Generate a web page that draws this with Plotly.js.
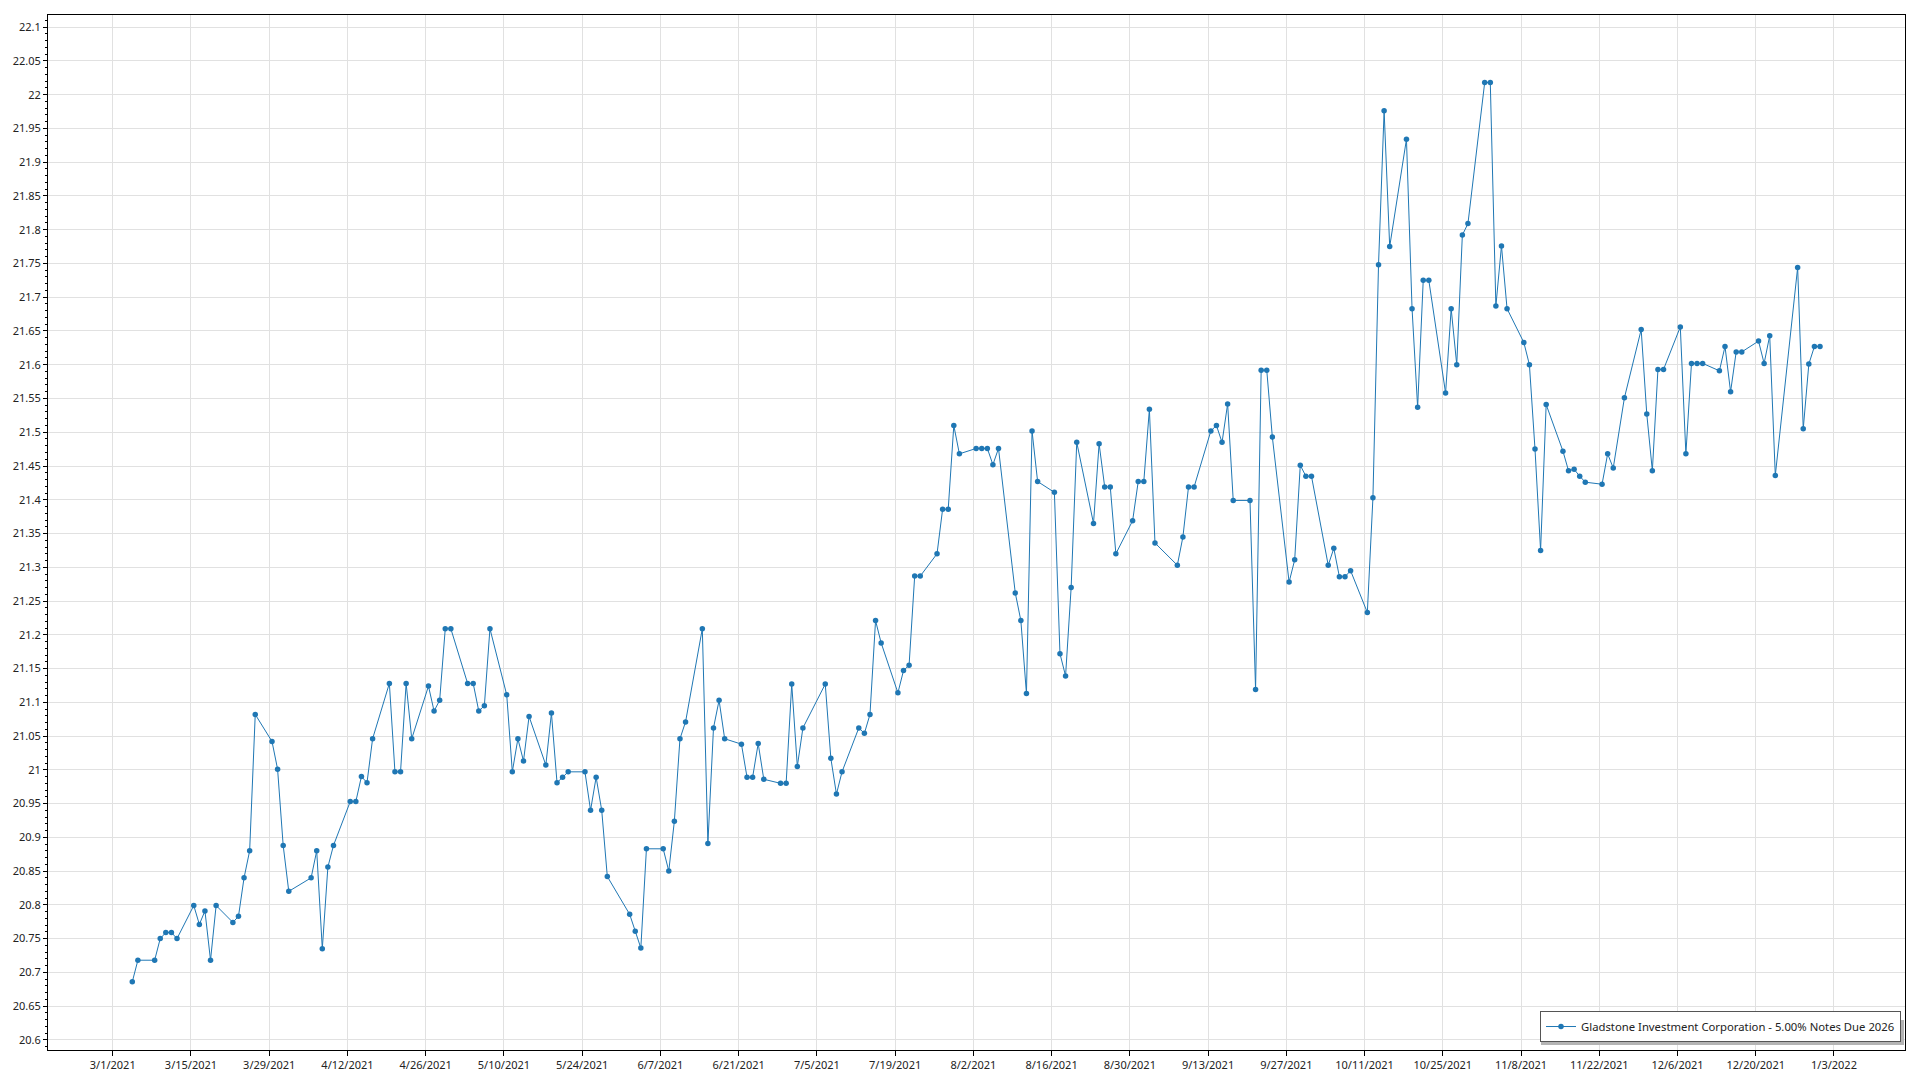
<!DOCTYPE html>
<html>
<head>
<meta charset="utf-8">
<script src="https://cdn.plot.ly/plotly-3.0.1.min.js"></script>
<style>
html,body{margin:0;padding:0;background:#fff;}
#chart{width:1920px;height:1080px;}
</style>
</head>
<body>
<div id="chart"></div>
<script>
const seriesName = "Gladstone Investment Corporation - 5.00% Notes Due 2026";

const dates = [
"2021-03-04","2021-03-05","2021-03-08","2021-03-09","2021-03-10","2021-03-11","2021-03-12",
"2021-03-15","2021-03-16","2021-03-17","2021-03-18","2021-03-19",
"2021-03-22","2021-03-23","2021-03-24","2021-03-25","2021-03-26",
"2021-03-29","2021-03-30","2021-03-31","2021-04-01",
"2021-04-05","2021-04-06","2021-04-07","2021-04-08","2021-04-09",
"2021-04-12","2021-04-13","2021-04-14","2021-04-15","2021-04-16",
"2021-04-19","2021-04-20","2021-04-21","2021-04-22","2021-04-23",
"2021-04-26","2021-04-27","2021-04-28","2021-04-29","2021-04-30",
"2021-05-03","2021-05-04","2021-05-05","2021-05-06","2021-05-07",
"2021-05-10","2021-05-11","2021-05-12","2021-05-13","2021-05-14",
"2021-05-17","2021-05-18","2021-05-19","2021-05-20","2021-05-21",
"2021-05-24","2021-05-25","2021-05-26","2021-05-27","2021-05-28",
"2021-06-01","2021-06-02","2021-06-03","2021-06-04",
"2021-06-07","2021-06-08","2021-06-09","2021-06-10","2021-06-11",
"2021-06-14","2021-06-15","2021-06-16","2021-06-17","2021-06-18",
"2021-06-21","2021-06-22","2021-06-23","2021-06-24","2021-06-25",
"2021-06-28","2021-06-29","2021-06-30","2021-07-01","2021-07-02",
"2021-07-06","2021-07-07","2021-07-08","2021-07-09",
"2021-07-12","2021-07-13","2021-07-14","2021-07-15","2021-07-16",
"2021-07-19","2021-07-20","2021-07-21","2021-07-22","2021-07-23",
"2021-07-26","2021-07-27","2021-07-28","2021-07-29","2021-07-30",
"2021-08-02","2021-08-03","2021-08-04","2021-08-05","2021-08-06",
"2021-08-09","2021-08-10","2021-08-11","2021-08-12","2021-08-13",
"2021-08-16","2021-08-17","2021-08-18","2021-08-19","2021-08-20",
"2021-08-23","2021-08-24","2021-08-25","2021-08-26","2021-08-27",
"2021-08-30","2021-08-31","2021-09-01","2021-09-02","2021-09-03",
"2021-09-07","2021-09-08","2021-09-09","2021-09-10",
"2021-09-13","2021-09-14","2021-09-15","2021-09-16","2021-09-17",
"2021-09-20","2021-09-21","2021-09-22","2021-09-23","2021-09-24",
"2021-09-27","2021-09-28","2021-09-29","2021-09-30","2021-10-01",
"2021-10-04","2021-10-05","2021-10-06","2021-10-07","2021-10-08",
"2021-10-11","2021-10-12","2021-10-13","2021-10-14","2021-10-15",
"2021-10-18","2021-10-19","2021-10-20","2021-10-21","2021-10-22",
"2021-10-25","2021-10-26","2021-10-27","2021-10-28","2021-10-29",
"2021-11-01","2021-11-02","2021-11-03","2021-11-04","2021-11-05",
"2021-11-08","2021-11-09","2021-11-10","2021-11-11","2021-11-12",
"2021-11-15","2021-11-16","2021-11-17","2021-11-18","2021-11-19",
"2021-11-22","2021-11-23","2021-11-24","2021-11-26",
"2021-11-29","2021-11-30","2021-12-01","2021-12-02","2021-12-03",
"2021-12-06","2021-12-07","2021-12-08","2021-12-09","2021-12-10",
"2021-12-13","2021-12-14","2021-12-15","2021-12-16","2021-12-17",
"2021-12-20","2021-12-21","2021-12-22","2021-12-23",
"2021-12-27","2021-12-28","2021-12-29","2021-12-30","2021-12-31"
];

const prices = [
20.686,20.718,20.718,20.750,20.759,20.759,20.750,
20.799,20.771,20.791,20.718,20.799,
20.774,20.783,20.840,20.880,21.082,
21.042,21.001,20.888,20.820,
20.840,20.880,20.735,20.856,20.888,
20.953,20.953,20.990,20.981,21.046,
21.128,20.997,20.997,21.128,21.046,
21.124,21.087,21.103,21.209,21.209,
21.128,21.128,21.087,21.095,21.209,
21.111,20.997,21.046,21.013,21.079,
21.007,21.084,20.981,20.989,20.997,
20.997,20.940,20.989,20.940,20.842,
20.786,20.761,20.736,20.883,
20.883,20.850,20.924,21.046,21.071,
21.209,20.891,21.062,21.103,21.046,
21.038,20.989,20.989,21.039,20.986,
20.980,20.980,21.127,21.005,21.062,
21.127,21.017,20.964,20.997,
21.062,21.054,21.082,21.221,21.188,
21.114,21.147,21.155,21.287,21.287,
21.320,21.386,21.386,21.510,21.468,
21.476,21.476,21.476,21.452,21.476,
21.262,21.221,21.113,21.502,21.427,
21.411,21.172,21.139,21.270,21.485,
21.365,21.483,21.419,21.419,21.320,
21.369,21.427,21.427,21.534,21.336,
21.303,21.345,21.419,21.419,
21.502,21.510,21.485,21.542,21.399,
21.399,21.119,21.592,21.592,21.493,
21.278,21.311,21.451,21.435,21.435,
21.303,21.328,21.286,21.286,21.295,
21.233,21.403,21.748,21.976,21.775,
21.934,21.683,21.537,21.725,21.725,
21.558,21.683,21.600,21.792,21.809,
22.018,22.018,21.687,21.776,21.683,
21.633,21.600,21.475,21.325,21.541,
21.472,21.443,21.445,21.435,21.426,
21.423,21.468,21.447,21.551,
21.652,21.527,21.443,21.593,21.593,
21.656,21.468,21.602,21.602,21.602,
21.591,21.627,21.560,21.619,21.619,
21.635,21.602,21.643,21.436,
21.744,21.505,21.601,21.627,21.627
];

// points are drawn at midday of each trading date
const xs = dates.map(d => d + " 12:00");

const trace = {
  x: xs,
  y: prices,
  type: "scatter",
  mode: "lines+markers",
  name: seriesName,
  line: {color: "#1f77b4", width: 1},
  marker: {color: "#1f77b4", size: 5.5},
  showlegend: true
};

const gridColor = "#e1e1e1";
const layout = {
  width: 1920,
  height: 1080,
  paper_bgcolor: "#ffffff",
  plot_bgcolor: "#ffffff",
  margin: {l: 48, r: 15, t: 15, b: 30, pad: 0},
  font: {family: "Noto Sans, Open Sans, sans-serif", size: 11, color: "#222"},
  showlegend: true,
  legend: {
    x: 0.99785, y: 0.0077, xanchor: "right", yanchor: "bottom",
    bgcolor: "#ffffff", bordercolor: "#555", borderwidth: 1,
    font: {family: "Noto Sans, Open Sans, sans-serif", size: 11.3, color: "#222"}
  },
  shapes: [{
    type: "rect", xref: "paper", yref: "paper", layer: "above",
    x0: 0.80398, x1: 0.99946, y0: 0.00483, y1: 0.02899,
    fillcolor: "#b4b4b4", line: {width: 0}
  }],
  xaxis: {
    type: "date",
    range: ["2021-02-17 10:00", "2022-01-15 17:00"],
    tick0: "2021-03-01",
    dtick: 14 * 86400000,
    tickformat: "%-m/%-d/%Y",
    ticks: "outside", ticklen: 5, tickcolor: "#000", tickwidth: 1,
    showgrid: true, gridcolor: gridColor, gridwidth: 1,
    showline: true, linecolor: "#000", linewidth: 1, mirror: true,
    zeroline: false,
    tickfont: {size: 11, color: "#222"}
  },
  yaxis: {
    range: [20.585, 22.118],
    tick0: 20.6,
    dtick: 0.05,
    ticks: "outside", ticklen: 4, tickcolor: "#000", tickwidth: 1,
    minor: {dtick: 0.01, ticks: "outside", ticklen: 2, tickcolor: "#000", showgrid: false},
    showgrid: true, gridcolor: gridColor, gridwidth: 1,
    showline: true, linecolor: "#000", linewidth: 1, mirror: true,
    zeroline: false,
    tickfont: {size: 11, color: "#222"}
  }
};

Plotly.newPlot("chart", [trace], layout, {displayModeBar: false, staticPlot: true});
</script>
</body>
</html>
